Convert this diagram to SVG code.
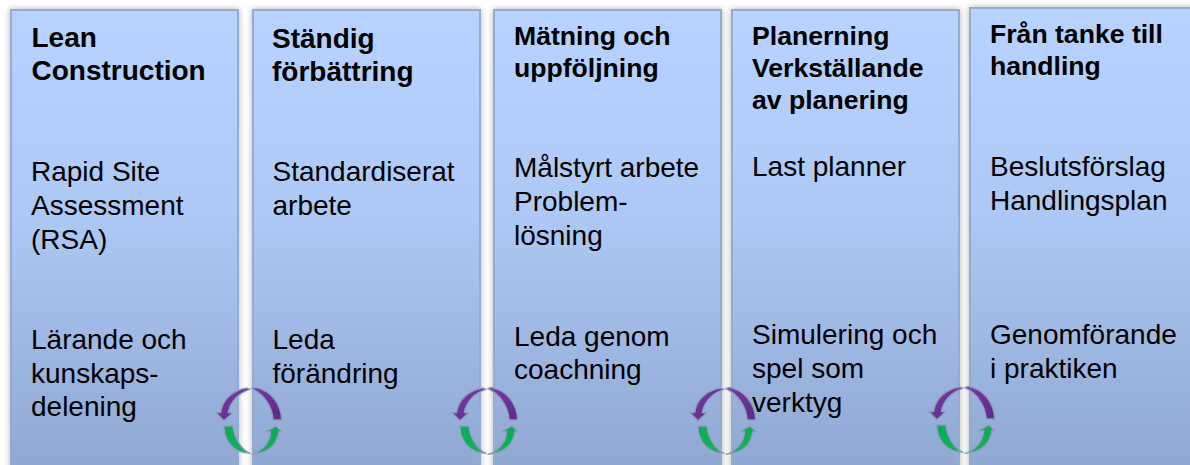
<svg xmlns="http://www.w3.org/2000/svg" width="1190" height="465" viewBox="0 0 1190 465">
<style>
text{font-family:"Liberation Sans",Arial,sans-serif;fill:#000}
.h{font-weight:700}
.a{font-size:28px}.c{font-size:26.600px}
.p{fill:url(#g);stroke:#95acd2;stroke-width:2;filter:url(#s)}
.arr{stroke:#8d9cbd;stroke-width:1.3;stroke-linejoin:round}
</style>
<defs>
<linearGradient id="g" x1="0" y1="0" x2="0" y2="1"><stop offset="0" stop-color="#b8d3ff"/><stop offset=".45" stop-color="#adc8f4"/><stop offset="1" stop-color="#8fa7d1"/></linearGradient>
<linearGradient id="pg" x1="0" y1="0" x2="1" y2="1"><stop offset="0" stop-color="#7a3ba6"/><stop offset="1" stop-color="#5a2a8a"/></linearGradient>
<linearGradient id="gg" x1="0" y1="0" x2="0" y2="1"><stop offset="0" stop-color="#0da957"/><stop offset="1" stop-color="#0fb35c"/></linearGradient>
<filter id="s" x="-5%" y="-2%" width="110%" height="104%"><feDropShadow dx="0" dy="0" stdDeviation="3" flood-color="#000" flood-opacity=".3"/></filter>
<g id="cyc">
<path class="arr" fill="url(#pg)" d="M247 388C233 390 222 400 220.700 412.700L216 412.700L224 420.700L232.700 412.700L228.300 412.700C230 402 238 393 250 389.300Z"/>
<path class="arr" fill="url(#pg)" d="M255 387.300C270 390 281 403 281.700 420L273.300 420C272 406 264 394 251.700 388.700Z"/>
<path class="arr" fill="url(#gg)" d="M224 426L232.800 426C234 438 241 449 250 453.300C234 453 224 441 224 426Z"/>
<path class="arr" fill="url(#gg)" d="M255 453.300C264 449 270 441 270.700 431.700L266 431.700L276 426L281.700 431.700L278.800 431.700C277 445 268 453 252 454.300Z"/>
</g>
</defs>
<rect width="1190" height="465" fill="#fff"/>
<g id="n1"><rect class="p" x="11" y="10" width="227" height="465"/>
<text class="h a" x="31.500" y="47">Lean</text><text class="h a" x="31.500" y="80">Construction</text>
<text class="a" x="31" y="181">Rapid Site</text><text class="a" x="31" y="215">Assessment</text><text class="a" x="31" y="249">(RSA)</text>
<text class="a" x="31" y="349">Lärande och</text><text class="a" x="31" y="383">kunskaps-</text><text class="a" x="31" y="416">delening</text></g>
<g id="n2"><rect class="p" x="253" y="10" width="227" height="465"/>
<text class="h a" x="272" y="48">Ständig</text><text class="h a" x="272" y="81">förbättring</text>
<text class="a" x="272.500" y="181">Standardiserat</text><text class="a" x="272.500" y="215">arbete</text>
<text class="a" x="272.500" y="349">Leda</text><text class="a" x="272.500" y="383">förändring</text></g>
<g id="n3"><rect class="p" x="494" y="10" width="227" height="465"/>
<text class="h c" x="514" y="45">Mätning och</text><text class="h c" x="514" y="77">uppföljning</text>
<text class="a" x="514" y="177">Målstyrt arbete</text><text class="a" x="514" y="211">Problem-</text><text class="a" x="514" y="245">lösning</text>
<text class="a" x="514" y="346">Leda genom</text><text class="a" x="514" y="379">coachning</text></g>
<g id="n4"><rect class="p" x="732" y="10" width="227" height="465"/>
<text class="h c" x="752" y="45">Planerning</text><text class="h c" x="752" y="77">Verkställande</text><text class="h c" x="752" y="109">av planering</text>
<text class="a" x="752" y="176">Last planner</text>
<text class="a" x="752" y="344">Simulering och</text><text class="a" x="752" y="378">spel som</text><text class="a" x="752" y="412">verktyg</text></g>
<g id="n5"><rect class="p" x="970" y="8" width="230" height="467"/>
<text class="h c" x="990" y="43">Från tanke till</text><text class="h c" x="990" y="75">handling</text>
<text class="a" x="990" y="176">Beslutsförslag</text><text class="a" x="990" y="210">Handlingsplan</text>
<text class="a" x="990" y="344">Genomförande</text><text class="a" x="990" y="378">i praktiken</text></g>
<g id="connectors">
<use href="#cyc"/>
<use href="#cyc" x="236"/>
<use href="#cyc" x="474"/>
<use href="#cyc" x="713" y="-1"/>
</g>
</svg>
